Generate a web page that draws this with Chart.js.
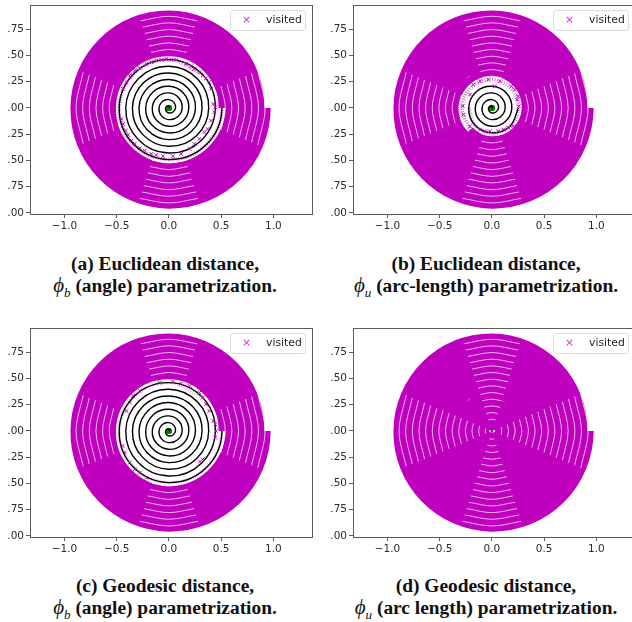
<!DOCTYPE html>
<html>
<head>
<meta charset="utf-8">
<script src="https://cdn.jsdelivr.net/npm/chart.js@4"></script>
<style>
  html, body { margin: 0; padding: 0; background: #fff; overflow: hidden; width: 632px; height: 622px; }
  .panel { position: absolute; width: 318px; height: 240px; }
  .panel canvas { position: absolute; left: 0; top: 0; }
  .legend { position: absolute; left: 230px; top: 10px; width: 76px; height: 21px; box-sizing: border-box;
            border: 1px solid #ddd; border-radius: 3px; background: rgba(255,255,255,.85);
            font: 10.8px "DejaVu Sans"; color: #262626; line-height: 17px; }
  .legend span { position: absolute; left: 11px; color: #d030d0; }
  .legend b { position: absolute; left: 35px; font-weight: normal; }
  .caption { position: absolute; width: 330px; text-align: center; font: bold 19.4px/20.8px "Liberation Serif"; color: #111; white-space: nowrap; }
  .caption i { font-weight: normal; font-size: 21px; }
  .caption sub { font-size: 13px; font-style: italic; font-weight: normal; line-height: 0; }
</style>
</head>
<body>
<div class="panel" style="left:0;top:0"><canvas id="chart-a" width="318" height="240"></canvas><div class="legend"><span>×</span><b>visited</b></div></div>
<div class="panel" style="left:323px;top:0"><canvas id="chart-b" width="318" height="240"></canvas><div class="legend"><span>×</span><b>visited</b></div></div>
<div class="panel" style="left:0;top:323px"><canvas id="chart-c" width="318" height="240"></canvas><div class="legend"><span>×</span><b>visited</b></div></div>
<div class="panel" style="left:323px;top:323px"><canvas id="chart-d" width="318" height="240"></canvas><div class="legend"><span>×</span><b>visited</b></div></div>

<div class="caption" style="left:0;top:254px">(a) Euclidean distance,<br><i>ϕ</i><sub>b</sub> (angle) parametrization.</div>
<div class="caption" style="left:321px;top:254px">(b) Euclidean distance,<br><i>ϕ</i><sub>u</sub> (arc-length) parametrization.</div>
<div class="caption" style="left:0;top:576px">(c) Geodesic distance,<br><i>ϕ</i><sub>b</sub> (angle) parametrization.</div>
<div class="caption" style="left:321px;top:576px">(d) Geodesic distance,<br><i>ϕ</i><sub>u</sub> (arc length) parametrization.</div>

<script>
// tick labels as they show in the figure (y labels are cut off on the left there)
const xTickValues = [-1, -0.5, 0, 0.5, 1];
const xTickLabels = ['−1.0', '−0.5', '0.0', '0.5', '1.0'];
const yTickValues = [0.75, 0.5, 0.25, 0, -0.25, -0.5, -0.75, -1];
const yTickLabels = ['.75', '.50', '.25', '.00', '.25', '.50', '.75', '.00'];

// the spiral, read every 45 degrees, one row per turn
// the last point only gives the curve its direction at the end, it is not drawn
const spiralX = [
  0, .006, 0, -.017, -.032, -.028, 0, .039,
  .0635, .050, 0, -.062, -.095, -.073, 0, .084,
  .127, .095, 0, -.107, -.159, -.118, 0, .129,
  .1905, .140, 0, -.152, -.222, -.163, 0, .174,
  .254, .185, 0, -.196, -.286, -.208, 0, .219,
  .3175, .230, 0, -.241, -.349, -.252, 0, .264,
  .381, .275, 0, -.286, -.413, -.297, 0, .309,
  .4445, .320, 0, -.331, -.476, -.342, 0, .354,
  .508, .365, 0, -.376, -.540, -.387, 0, .398,
  .5715, .410, 0, -.421, -.603, -.432, 0, .443,
  .635, .455, 0, -.466, -.667, -.477, 0, .488,
  .6985, .499, 0, -.511, -.730, -.522, 0, .533,
  .762, .544, 0, -.556, -.794, -.567, 0, .578,
  .8255, .589, 0, -.601, -.857, -.612, 0, .623,
  .885, .630, 0, -.640, -.913, -.651, 0, .663,
  .9445, .673
];
const spiralY = [
  0, .006, .016, .017, 0, -.028, -.048, -.039,
  0, .050, .079, .062, 0, -.073, -.111, -.084,
  0, .095, .143, .107, 0, -.118, -.175, -.129,
  0, .140, .206, .152, 0, -.163, -.238, -.174,
  0, .185, .270, .196, 0, -.208, -.302, -.219,
  0, .230, .333, .241, 0, -.252, -.365, -.264,
  0, .275, .397, .286, 0, -.297, -.429, -.309,
  0, .320, .460, .331, 0, -.342, -.492, -.354,
  0, .365, .524, .376, 0, -.387, -.556, -.398,
  0, .410, .587, .421, 0, -.432, -.619, -.443,
  0, .455, .651, .466, 0, -.477, -.683, -.488,
  0, .499, .714, .511, 0, -.522, -.746, -.533,
  0, .544, .778, .556, 0, -.567, -.810, -.578,
  0, .589, .841, .601, 0, -.612, -.873, -.623,
  0, .630, .898, .640, 0, -.651, -.929, -.663,
  0, .673
];

// thin pale gaps between the turns near the axes, 3 points + a break, one row per gap
const gapX = [
  .030, .032, .030, null,  .015, 0, -.015, null,  -.059, -.0635, -.059, null,  -.024, 0, .024, null,
  .088, .095, .088, null,  .034, 0, -.034, null,  -.117, -.127, -.117, null,  -.044, 0, .044, null,
  .147, .159, .147, null,  .054, 0, -.054, null,  -.176, -.1905, -.176, null,  -.064, 0, .064, null,
  .205, .222, .205, null,  .074, 0, -.074, null,  -.235, -.254, -.235, null,  -.083, 0, .083, null,
  .264, .286, .264, null,  .093, 0, -.093, null,  -.293, -.3175, -.293, null,  -.103, 0, .103, null,
  .322, .349, .322, null,  .113, 0, -.113, null,  -.352, -.381, -.352, null,  -.123, 0, .123, null,
  .382, .413, .382, null,  .133, 0, -.133, null,  -.411, -.4445, -.411, null,  -.142, 0, .142, null,
  .440, .476, .440, null,  .152, 0, -.152, null,  -.469, -.508, -.469, null,  -.162, 0, .162, null,
  .499, .540, .499, null,  .172, 0, -.172, null,  -.528, -.5715, -.528, null,  -.181, 0, .181, null,
  .557, .603, .557, null,  .191, 0, -.191, null,  -.587, -.635, -.587, null,  -.201, 0, .201, null,
  .616, .667, .616, null,  .211, 0, -.211, null,  -.645, -.6985, -.645, null,  -.221, 0, .221, null,
  .675, .730, .675, null,  .231, 0, -.231, null,  -.704, -.762, -.704, null,  -.240, 0, .240, null,
  .734, .794, .734, null,  .250, 0, -.250, null,  -.763, -.8255, -.763, null,  -.260, 0, .260, null,
  .792, .857, .792, null,  .270, 0, -.270, null,  -.821, -.889, -.821, null,  -.280, 0, .280, null,
  .851, .921, .851, null
];
const gapY = [
  -.012, 0, .012, null,  .046, .048, .046, null,  .024, 0, -.024, null,  -.075, -.079, -.075, null,
  -.036, 0, .036, null,  .106, .111, .106, null,  .049, 0, -.049, null,  -.136, -.143, -.136, null,
  -.061, 0, .061, null,  .166, .175, .166, null,  .073, 0, -.073, null,  -.196, -.206, -.196, null,
  -.085, 0, .085, null,  .226, .238, .226, null,  .097, 0, -.097, null,  -.257, -.270, -.257, null,
  -.110, 0, .110, null,  .287, .302, .287, null,  .122, 0, -.122, null,  -.317, -.333, -.317, null,
  -.134, 0, .134, null,  .347, .365, .347, null,  .146, 0, -.146, null,  -.378, -.397, -.378, null,
  -.158, 0, .158, null,  .408, .429, .408, null,  .170, 0, -.170, null,  -.437, -.460, -.437, null,
  -.182, 0, .182, null,  .468, .492, .468, null,  .195, 0, -.195, null,  -.498, -.524, -.498, null,
  -.207, 0, .207, null,  .529, .556, .529, null,  .219, 0, -.219, null,  -.558, -.587, -.558, null,
  -.231, 0, .231, null,  .589, .619, .589, null,  .243, 0, -.243, null,  -.619, -.651, -.619, null,
  -.255, 0, .255, null,  .650, .683, .650, null,  .268, 0, -.268, null,  -.679, -.714, -.679, null,
  -.280, 0, .280, null,  .709, .746, .709, null,  .292, 0, -.292, null,  -.740, -.778, -.740, null,
  -.304, 0, .304, null,  .770, .810, .770, null,  .316, 0, -.316, null,  -.800, -.841, -.800, null,
  -.328, 0, .328, null,  .830, .873, .830, null,  .340, 0, -.340, null,  -.861, -.905, -.861, null,
  -.353, 0, .353, null
];

// loose visited crosses around the inner edge of the band
const looseAX = [-.327, -.279, -.216, -.168, -.121, -.073, -.025, .022, .070, .165, .213, .244, .292, .324, .356, .387, .403, .425, .444, .435, .403, .371, .340, .292, .244, .197, .117, .038, -.057, -.121, -.168, -.232, -.279, -.327, -.359, -.390, -.413, -.438, -.454, -.438, -.406, -.375];
const looseAY = [.356, .378, .419, .435, .451, .457, .467, .460, .460, .419, .397, .371, .340, .308, .283, .244, .181, .038, .006, -.041, -.121, -.200, -.232, -.295, -.343, -.390, -.438, -.460, -.460, -.448, -.438, -.406, -.384, -.343, -.311, -.257, -.216, -.152, -.105, .181, .244, .308];
const looseBX = [.029, -.114, -.035, .076, .219, .251, .257, .241, .203, .156, .060, -.019, -.067, -.162, -.210, -.273, -.279, -.210, -.178, .187, .108, -.114];
const looseBY = [.206, .254, .270, .254, .175, .111, .016, .079, -.175, -.190, -.222, -.222, -.222, -.254, -.175, -.063, .016, .127, .222, .206, -.206, -.206];
const looseCX = [.292, .324, .356, .387, .425, .444, .451, .444, .324, .298, -.375, -.327, -.279, -.216, -.406, -.375, -.343, -.279, -.089, .038, .117, .197, -.422, -.444];
const looseCY = [.365, .317, .254, .190, .095, .063, 0, -.063, -.270, -.292, -.302, -.365, -.397, -.444, .190, .270, .333, .381, .460, .470, .451, .429, -.206, -.143];

const centerX = [0];
const centerY = [0];

// the outermost turn is a bit narrower, index in the spiral arrays where it starts
const lastTurnStart = 112;

function toPoints(xs, ys) {
  return xs.map((x, i) => ({ x: x, y: ys[i] }));
}

// outline around the plot, the scales only draw the ticks
const framePlugin = {
  id: 'frame',
  afterDraw(chart) {
    const a = chart.chartArea;
    const ctx = chart.ctx;
    ctx.save();
    ctx.strokeStyle = '#5c5c5c';
    ctx.lineWidth = 1;
    ctx.strokeRect(a.left + 0.5, a.top + 0.5, a.right - a.left, a.bottom - a.top);
    ctx.restore();
  }
};

function noOverflow(scale) {
  scale.paddingTop = 0;
  scale.paddingBottom = 0;
  scale.paddingLeft = 0;
  scale.paddingRight = 0;
}

function makePanel(id, p) {
  const bandX = spiralX.slice(p.bandStart);
  const bandY = spiralY.slice(p.bandStart);
  const lastIndex = bandX.length - 1;
  const datasets = [
    {
      data: toPoints(centerX, centerY), showLine: false, order: 6,
      pointRadius: p.dotRadius, pointBackgroundColor: '#008000', pointBorderWidth: 0
    },
    {
      // ragged pale ring where the visited points thin out
      data: toPoints(spiralX.slice(p.ringStart, p.ringEnd), spiralY.slice(p.ringStart, p.ringEnd)), showLine: true, order: 5,
      borderColor: p.ringColor, borderWidth: 3.6, borderDash: [1, 1.5], tension: 0.375, pointRadius: 0
    },
    {
      data: toPoints(spiralX.slice(0, p.blackEnd), spiralY.slice(0, p.blackEnd)), showLine: true, order: 4,
      borderColor: '#000', borderWidth: 1.4, tension: 0.375, pointRadius: 0
    },
    {
      label: 'visited',
      data: toPoints(bandX, bandY), showLine: true, order: 3,
      borderColor: '#bf00bf', borderWidth: 6.8, tension: 0.375, pointRadius: 0,
      // first and last stretch are only there to keep the curve round at its ends
      segment: {
        borderColor: ctx => (ctx.p0DataIndex === 0 || ctx.p1DataIndex === lastIndex) ? 'rgba(0,0,0,0)' : undefined,
        borderWidth: ctx => (ctx.p0DataIndex + p.bandStart >= lastTurnStart) ? 6.3 : undefined
      }
    },
    {
      data: toPoints(gapX.slice(p.gapStart * 4), gapY.slice(p.gapStart * 4)), showLine: true, order: 2,
      borderColor: 'rgba(255,255,255,.7)', borderWidth: 1, tension: 0.34, pointRadius: 0, spanGaps: false
    },
    {
      data: toPoints(p.looseX, p.looseY), showLine: false, order: 1,
      pointStyle: 'crossRot', pointRadius: 2.6, pointBorderColor: '#bf00bf', pointBorderWidth: 1
    }
  ];

  new Chart(document.getElementById(id), {
    type: 'scatter',
    data: { datasets: datasets },
    plugins: [framePlugin],
    options: {
      responsive: false,
      animation: false,
      events: [],
      layout: { padding: { top: 5, right: 6, left: 0, bottom: 0 } },
      plugins: { legend: { display: false }, tooltip: { enabled: false } },
      scales: {
        x: {
          type: 'linear', min: -1.33, max: 1.37,
          afterBuildTicks: s => { s.ticks = xTickValues.map(v => ({ value: v })); },
          afterFit: s => { s.height = 26; noOverflow(s); },
          border: { display: false },
          grid: { drawOnChartArea: false, color: '#5c5c5c', tickLength: 4 },
          ticks: {
            autoSkip: false, maxRotation: 0, padding: 2, color: '#2b2b2b',
            font: { family: 'DejaVu Sans', size: 10.5 },
            callback: (v, i) => xTickLabels[i]
          }
        },
        y: {
          type: 'linear', min: -1.01, max: 0.98,
          afterBuildTicks: s => { s.ticks = yTickValues.map(v => ({ value: v })); },
          afterFit: s => { s.width = 30; noOverflow(s); },
          border: { display: false },
          grid: { drawOnChartArea: false, color: '#5c5c5c', tickLength: 4 },
          ticks: {
            autoSkip: false, padding: 2, color: '#2b2b2b',
            font: { family: 'DejaVu Sans', size: 10.5 },
            callback: (v, i) => yTickLabels[i]
          }
        }
      }
    }
  });
}

makePanel('chart-a', { blackEnd: 66, bandStart: 63, gapStart: 31, ringStart: 57, ringEnd: 66, ringColor: 'rgba(191,0,191,.55)', dotRadius: 3.2, looseX: looseAX, looseY: looseAY });
makePanel('chart-b', { blackEnd: 33, bandStart: 36, gapStart: 17, ringStart: 28, ringEnd: 38, ringColor: 'rgba(191,0,191,.55)', dotRadius: 3.2, looseX: looseBX, looseY: looseBY });
makePanel('chart-c', { blackEnd: 66, bandStart: 63, gapStart: 31, ringStart: 57, ringEnd: 66, ringColor: 'rgba(191,0,191,.3)', dotRadius: 3.2, looseX: looseCX, looseY: looseCY });
makePanel('chart-d', { blackEnd: 0, bandStart: 0, gapStart: 2, ringStart: 0, ringEnd: 0, ringColor: 'rgba(0,0,0,0)', dotRadius: 1.5, looseX: [], looseY: [] });
</script>
</body>
</html>
